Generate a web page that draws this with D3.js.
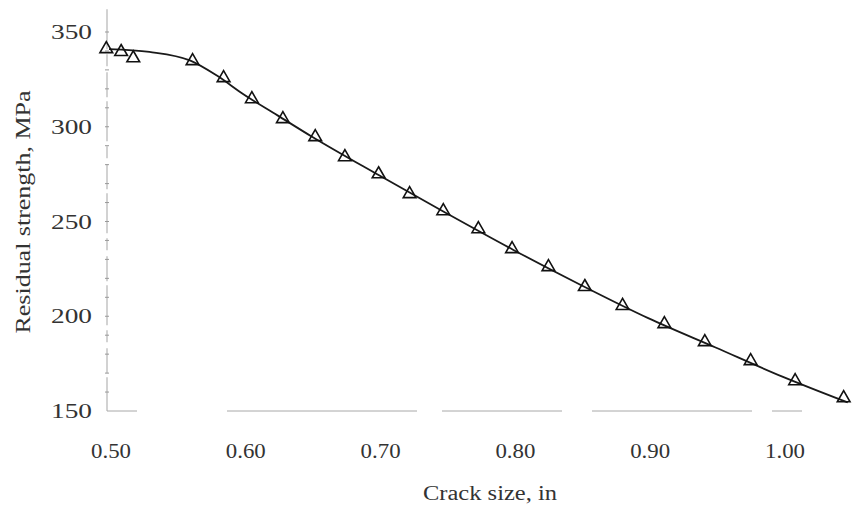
<!DOCTYPE html>
<html>
<head>
<meta charset="utf-8">
<script src="https://cdn.jsdelivr.net/npm/d3@7"></script>
<style>
  body { margin: 0; background: #fff; }
  text { font-family: "Times New Roman", Times, "Liberation Serif", serif; fill: #333; }
</style>
</head>
<body>
<script>
// measured points (triangles)
var crack = [0.498, 0.509, 0.518, 0.562, 0.585, 0.606, 0.629, 0.653, 0.675, 0.700, 0.723, 0.748,
             0.774, 0.799, 0.826, 0.853, 0.881, 0.912, 0.942, 0.976, 1.009, 1.045];
var strength = [340.5, 339, 335.7, 334.2, 325.2, 314.1, 303.6, 294.1, 283.5, 274.5, 264, 255,
                245.5, 235, 225.5, 215, 205, 195.4, 185.9, 175.9, 165.3, 156.3];

// fitted curve
var curveX = [0.50, 0.53, 0.56, 0.58, 0.60, 0.625, 0.65, 0.70, 0.75, 0.80, 0.85, 0.90, 0.95, 1.00, 1.048];
var curveY = [341, 339.5, 335, 327, 317, 306, 295, 274.5, 254.5, 235, 216.5, 199, 183.5, 168, 154.5];

var xTicks = [0.50, 0.60, 0.70, 0.80, 0.90, 1.00];
var yTicks = [150, 200, 250, 300, 350];

var svg = d3.select("body")
    .append("svg")
    .attr("width", 856)
    .attr("height", 509);

var x = d3.scaleLinear().domain([0.5, 1.05]).range([109, 850.4]);
var y = d3.scaleLinear().domain([150, 350]).range([411, 32]);

// axis lines, faint and broken like the scan
svg.append("line")
    .attr("x1", 107).attr("x2", 107)
    .attr("y1", y(362)).attr("y2", y(150))
    .attr("stroke", "#a5a5a5")
    .attr("stroke-width", 1)
    .attr("stroke-dasharray", "40,5,12,6,25,4");

svg.append("line")
    .attr("x1", 107).attr("x2", x(1.05))
    .attr("y1", y(150)).attr("y2", y(150))
    .attr("stroke", "#a8a8a8")
    .attr("stroke-width", 1)
    .attr("stroke-dasharray", "30,90,190,25,120,30,160,20");

// minor ticks on y axis
svg.selectAll(".ytick")
    .data(d3.range(160, 360, 10))
    .enter()
    .append("line")
    .attr("x1", 105).attr("x2", 109)
    .attr("y1", function(d) { return y(d); })
    .attr("y2", function(d) { return y(d); })
    .attr("stroke", "#999")
    .attr("stroke-width", 1);

// tick labels
svg.selectAll(".ylab")
    .data(yTicks)
    .enter()
    .append("text")
    .text(function(d) { return d; })
    .attr("x", 92)
    .attr("y", function(d) { return y(d) + 7; })
    .attr("text-anchor", "end")
    .attr("font-size", "20px")
    .attr("textLength", 41)
    .attr("lengthAdjust", "spacingAndGlyphs");

svg.selectAll(".xlab")
    .data(xTicks)
    .enter()
    .append("text")
    .text(function(d) { return d3.format(".2f")(d); })
    .attr("x", function(d) { return x(d) + 2; })
    .attr("y", 458)
    .attr("text-anchor", "middle")
    .attr("font-size", "20px")
    .attr("textLength", 40)
    .attr("lengthAdjust", "spacingAndGlyphs");

// axis titles
svg.append("text")
    .text("Crack size, in")
    .attr("x", 490)
    .attr("y", 500)
    .attr("text-anchor", "middle")
    .attr("font-size", "20px")
    .attr("textLength", 134)
    .attr("lengthAdjust", "spacingAndGlyphs");

svg.append("text")
    .text("Residual strength, MPa")
    .attr("transform", "translate(30,212) rotate(-90)")
    .attr("text-anchor", "middle")
    .attr("font-size", "20px")
    .attr("textLength", 243)
    .attr("lengthAdjust", "spacingAndGlyphs");

// fitted curve
var line = d3.line()
    .x(function(d, i) { return x(curveX[i]); })
    .y(function(d, i) { return y(curveY[i]); })
    .curve(d3.curveMonotoneX);

svg.append("path")
    .attr("d", line(curveX))
    .attr("fill", "none")
    .attr("stroke", "#1a1a1a")
    .attr("stroke-width", 1.8);

// triangles
var tri = d3.symbol().type(d3.symbolTriangle).size(70);

svg.selectAll(".pt")
    .data(crack)
    .enter()
    .append("path")
    .attr("d", tri)
    .attr("transform", function(d, i) {
        return "translate(" + x(d) + "," + (y(strength[i]) - 1) + ")";
    })
    .attr("fill", "none")
    .attr("stroke", "#111")
    .attr("stroke-width", 1.6);
</script>
</body>
</html>
